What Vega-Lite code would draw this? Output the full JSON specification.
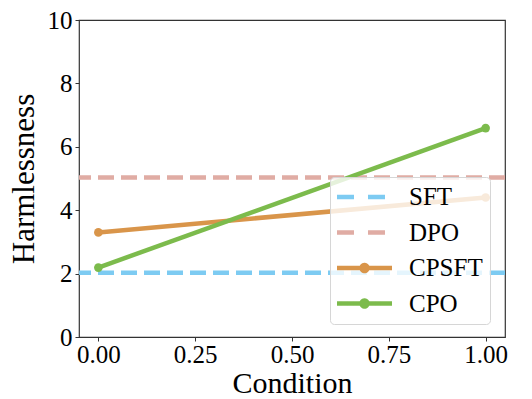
{
  "$schema": "https://vega.github.io/schema/vega-lite/v6.json",
  "autosize": "none",
  "width": 426,
  "height": 317,
  "padding": {"left": 79, "top": 20, "right": 27, "bottom": 62},
  "background": "white",
  "config": {
    "view": {"stroke": "#333333", "strokeWidth": 1.2},
    "font": "Liberation Serif",
    "axis": {
      "grid": false,
      "domain": false,
      "tickColor": "#333333",
      "tickSize": 4,
      "tickWidth": 1,
      "labelFont": "Liberation Serif",
      "labelFontSize": 25,
      "labelColor": "black",
      "titleFont": "Liberation Serif",
      "titleFontSize": 31,
      "titleFontWeight": "normal",
      "titleColor": "black"
    }
  },
  "datasets": {
    "baselines": [
      {"method": "SFT", "harmlessness": 2.03},
      {"method": "DPO", "harmlessness": 5.03}
    ],
    "curves": [
      {"method": "CPSFT", "condition": 0, "harmlessness": 3.3},
      {"method": "CPSFT", "condition": 1, "harmlessness": 4.4},
      {"method": "CPO", "condition": 0, "harmlessness": 2.19},
      {"method": "CPO", "condition": 1, "harmlessness": 6.59}
    ]
  },
  "layer": [
    {
      "data": {"name": "baselines"},
      "mark": {"type": "rule", "strokeWidth": 4.5, "strokeDash": [16, 7]},
      "encoding": {
        "y": {"field": "harmlessness", "type": "quantitative", "scale": {"domain": [0, 10], "nice": false, "zero": false}, "axis": {"values": [0, 2, 4, 6, 8, 10], "format": "d", "labelPadding": 3, "title": "Harmlessness", "titlePadding": 7}},
        "color": {
          "field": "method", "type": "nominal",
          "scale": {"domain": ["SFT", "DPO", "CPSFT", "CPO"], "range": ["#7DCBF2", "#E0ACA4", "#D9954A", "#7CBB4C"]},
          "legend": {
            "title": null,
            "orient": "none",
            "legendX": 251,
            "legendY": 157,
            "fillColor": "rgba(255,255,255,0.8)",
            "strokeColor": "#d6d6d6",
            "cornerRadius": 4,
            "padding": 7,
            "symbolSize": 462,
            "labelFont": "Liberation Serif",
            "labelFontSize": 25,
            "labelColor": "black",
            "labelOffset": 46,
            "rowPadding": 9.5,
            "symbolStrokeWidth": 4.5,
            "encode": {
              "symbols": {
                "update": {
                  "shape": {"signal": "indexof(['CPSFT','CPO'], datum.value) >= 0 ? 'M-1.21,0H3.908M1.628,0A0.279,0.279,0,1,1,1.07,0A0.279,0.279,0,1,1,1.628,0' : 'M-1.21,0H3.908'"},
                  "strokeDash": {"signal": "indexof(['CPSFT','CPO'], datum.value) >= 0 ? [1,0] : [17,14]"},
                  "stroke": {"scale": "color", "field": "value"},
                  "fill": {"scale": "color", "field": "value"},
                  "strokeWidth": {"value": 4.5},
                  "opacity": {"value": 1},
                  "fillOpacity": {"value": 1},
                  "strokeOpacity": {"value": 1}
                }
              }
            }
          }
        }
      }
    },
    {
      "data": {"name": "curves"},
      "mark": {"type": "line", "strokeWidth": 4.5},
      "encoding": {
        "x": {"field": "condition", "type": "quantitative", "scale": {"domain": [-0.05, 1.05], "nice": false, "zero": false}, "axis": {"values": [0, 0.25, 0.5, 0.75, 1], "format": ".2f", "labelPadding": 1, "title": "Condition", "titleFontSize": 30, "titlePadding": 1.5}},
        "y": {"field": "harmlessness", "type": "quantitative", "scale": {"domain": [0, 10], "nice": false, "zero": false}},
        "color": {"field": "method", "type": "nominal"}
      }
    },
    {
      "data": {"name": "curves"},
      "mark": {"type": "point", "filled": true, "size": 75, "opacity": 1},
      "encoding": {
        "x": {"field": "condition", "type": "quantitative"},
        "y": {"field": "harmlessness", "type": "quantitative"},
        "color": {"field": "method", "type": "nominal"}
      }
    }
  ]
}
